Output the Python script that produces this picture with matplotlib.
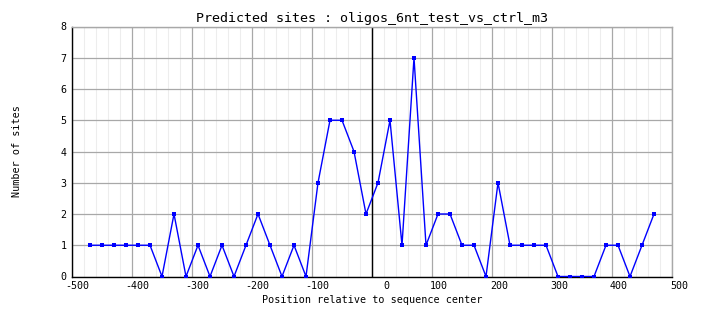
import matplotlib
matplotlib.use("Agg")
import matplotlib.pyplot as plt
from matplotlib.ticker import MultipleLocator
import matplotlib.transforms as mtransforms

# Site counts per 20-nt window along the sequence
positions = [-470, -450, -430, -410, -390, -370, -350, -330, -310, -290,
             -270, -250, -230, -210, -190, -170, -150, -130, -110, -90,
             -70, -50, -30, -10, 10, 30, 50, 70, 90, 110,
             130, 150, 170, 190, 210, 230, 250, 270, 290, 310,
             330, 350, 370, 390, 410, 430, 450, 470]
site_counts = [1, 1, 1, 1, 1, 1, 0, 2, 0, 1,
               0, 1, 0, 1, 2, 1, 0, 1, 0, 3,
               5, 5, 4, 2, 3, 5, 1, 7, 1, 2,
               2, 1, 1, 0, 3, 1, 1, 1, 1, 0,
               0, 0, 0, 1, 1, 0, 1, 2]

x_ticks = [-500, -400, -300, -200, -100, 0, 100, 200, 300, 400, 500]
y_ticks = [0, 1, 2, 3, 4, 5, 6, 7, 8]

title = "Predicted sites : oligos_6nt_test_vs_ctrl_m3"
x_label = "Position relative to sequence center"
y_label = "Number of sites"

mono = "DejaVu Sans Mono"

fig = plt.figure(figsize=(7.04, 3.28), dpi=100)
ax = fig.add_axes([72 / 704, (328 - 276.5) / 328, 600 / 704, 250 / 328])

ax.set_xlim(-500, 500)
ax.set_ylim(0, 8)

# grid: faint minor lines every 20, gray major lines
ax.xaxis.set_minor_locator(MultipleLocator(20))
ax.grid(which="minor", axis="x", color="#ededed", linewidth=0.8, zorder=0)
ax.grid(which="major", axis="both", color="#a8a8a8", linewidth=0.9, zorder=1)

# centre marker
ax.axvline(0, color="black", linewidth=1.0, zorder=2)

ax.plot(positions, site_counts, color="#0000ff", linewidth=1.0,
        marker="s", markersize=2.6, markeredgewidth=0, zorder=3)

ax.set_xticks(x_ticks)
ax.set_yticks(y_ticks)
ax.set_xticklabels([str(v) for v in x_ticks], fontfamily=mono, fontsize=7.2)
ax.set_yticklabels([str(v) for v in y_ticks], fontfamily=mono, fontsize=7.2)
ax.tick_params(which="both", length=0, pad=3)
ax.tick_params(axis="y", pad=4)

# labels sit a little to the right of their tick positions
for lab, v in zip(ax.get_xticklabels(), x_ticks):
    dx = 14 if v == 0 else (7 if v > 0 else 5)
    lab.set_transform(lab.get_transform() +
                      mtransforms.ScaledTranslation(dx / 100, 0, fig.dpi_scale_trans))

for side in ("top", "right"):
    ax.spines[side].set_color("#a8a8a8")
    ax.spines[side].set_linewidth(1.0)
for side in ("left", "bottom"):
    ax.spines[side].set_color("black")
    ax.spines[side].set_linewidth(1.0)

ax.set_title(title, fontfamily=mono, fontsize=9.6, pad=3)
ax.set_xlabel(x_label, fontfamily=mono, fontsize=7.3, labelpad=3)
ax.set_ylabel(y_label, fontfamily=mono, fontsize=7.3, labelpad=28)

fig.savefig("out.png", dpi=100)
